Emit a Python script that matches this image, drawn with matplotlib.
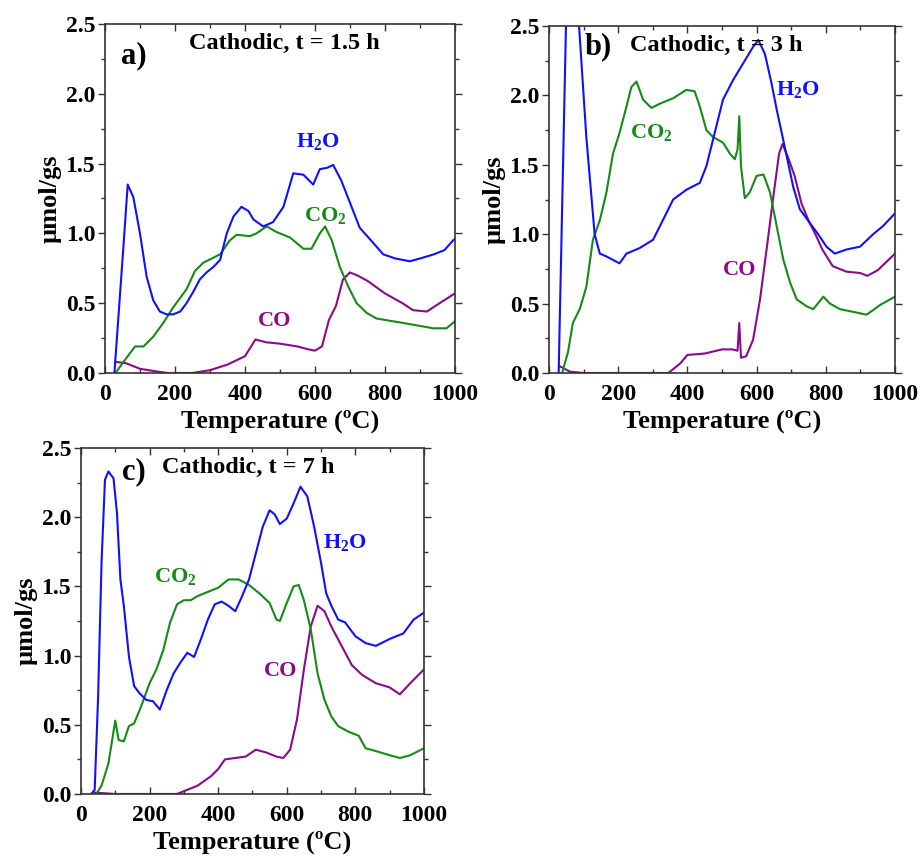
import matplotlib
matplotlib.use("Agg")
import matplotlib.pyplot as plt
from matplotlib.ticker import MultipleLocator

plt.rcParams["font.family"] = ["Liberation Serif", "DejaVu Serif"]
plt.rcParams["font.weight"] = "bold"
plt.rcParams["mathtext.fontset"] = "custom"
plt.rcParams["mathtext.rm"] = "Liberation Serif:bold"
plt.rcParams["mathtext.default"] = "rm"

BLUE = "#1010ff"
GREEN = "#168a16"
PURPLE = "#8a0a8a"

# ── Panel a) Cathodic, t = 1.5 h ───────────────────────────────────────────
a_h2o_T = [27, 52, 65, 81, 100, 119, 138, 157, 176, 195, 215, 233, 252, 271, 290, 310,
           329, 348, 367, 390, 410, 424, 452, 480, 510, 538, 567, 595, 614, 635, 652,
           675, 700, 728, 760, 795, 830, 871, 900, 940, 970, 995, 1000]
a_h2o_v = [0.0, 0.88, 1.35, 1.26, 1.0, 0.69, 0.52, 0.44, 0.42, 0.42, 0.44, 0.5, 0.58, 0.67,
           0.72, 0.76, 0.81, 1.0, 1.12, 1.19, 1.16, 1.1, 1.05, 1.08, 1.19, 1.43, 1.42, 1.35,
           1.46, 1.47, 1.49, 1.38, 1.22, 1.04, 0.95, 0.85, 0.82, 0.8, 0.82, 0.85, 0.88, 0.95, 0.96]

a_co2_T = [30, 62, 86, 110, 138, 167, 195, 233, 257, 281, 329, 357, 376, 414, 433, 462,
           490, 529, 567, 590, 614, 629, 648, 671, 695, 719, 748, 776, 824, 871, 938, 976, 1000]
a_co2_v = [0.0, 0.11, 0.19, 0.19, 0.26, 0.36, 0.47, 0.6, 0.73, 0.79, 0.85, 0.95, 0.99, 0.98,
           1.0, 1.05, 1.01, 0.97, 0.89, 0.89, 1.0, 1.05, 0.95, 0.76, 0.62, 0.5, 0.43, 0.39,
           0.37, 0.35, 0.32, 0.32, 0.37]

a_co_T = [30, 60, 100, 150, 180, 250, 300, 350, 400, 430, 460, 500, 550, 580, 600, 620,
          640, 660, 680, 700, 720, 750, 800, 850, 880, 920, 950, 1000]
a_co_v = [0.08, 0.07, 0.03, 0.01, 0.0, 0.0, 0.02, 0.06, 0.12, 0.24, 0.22, 0.21, 0.19, 0.17,
          0.16, 0.19, 0.38, 0.48, 0.67, 0.72, 0.7, 0.66, 0.57, 0.5, 0.45, 0.44, 0.49, 0.57]

# ── Panel b) Cathodic, t = 3 h ─────────────────────────────────────────────
b_h2o_T = [28, 50, 87, 108, 132, 147, 166, 204, 224, 262, 301, 339, 359, 397, 436, 455,
           474, 503, 532, 561, 590, 605, 624, 643, 658, 677, 706, 725, 754, 778, 802, 826,
           860, 899, 937, 966, 1000]
b_h2o_v = [0.0, 2.6, 2.5, 1.7, 1.0, 0.86, 0.84, 0.79, 0.86, 0.9, 0.96, 1.15, 1.25, 1.32,
           1.37, 1.49, 1.68, 1.97, 2.11, 2.23, 2.35, 2.4, 2.3, 2.09, 1.9, 1.68, 1.34, 1.18,
           1.08, 1.0, 0.91, 0.86, 0.89, 0.91, 1.0, 1.06, 1.15]

b_co2_T = [38, 55, 69, 89, 108, 127, 147, 166, 185, 204, 224, 238, 253, 272, 296, 320, 359,
           397, 421, 436, 455, 474, 503, 523, 537, 545, 550, 555, 566, 580, 600, 620, 639,
           658, 677, 697, 716, 745, 764, 793, 812, 841, 880, 918, 957, 1000]
b_co2_v = [0.0, 0.15, 0.36, 0.46, 0.62, 0.96, 1.1, 1.3, 1.58, 1.73, 1.92, 2.06, 2.1, 1.97,
           1.91, 1.94, 1.98, 2.04, 2.03, 1.92, 1.75, 1.7, 1.66, 1.58, 1.54, 1.61, 1.85, 1.49,
           1.26, 1.3, 1.42, 1.43, 1.3, 1.06, 0.82, 0.65, 0.53, 0.48, 0.46, 0.55, 0.5, 0.46,
           0.44, 0.42, 0.49, 0.55]

b_co_T = [30, 60, 100, 200, 345, 380, 400, 450, 500, 530, 545, 550, 555, 570, 590, 610,
          630, 650, 665, 675, 690, 710, 730, 750, 770, 790, 820, 860, 900, 920, 950, 1000]
b_co_v = [0.05, 0.01, 0.0, 0.0, 0.0, 0.07, 0.13, 0.14, 0.17, 0.17, 0.16, 0.36, 0.11, 0.12,
          0.24, 0.53, 0.91, 1.3, 1.58, 1.65, 1.56, 1.42, 1.22, 1.1, 1.0, 0.89, 0.77, 0.73,
          0.72, 0.7, 0.74, 0.86]

# ── Panel c) Cathodic, t = 7 h ─────────────────────────────────────────────
c_h2o_T = [30, 40, 50, 60, 70, 80, 95, 105, 115, 125, 140, 155, 170, 190, 210, 230, 250,
           270, 290, 310, 330, 350, 370, 390, 410, 430, 450, 470, 490, 510, 530, 550, 565,
           580, 600, 620, 640, 660, 680, 700, 715, 730, 750, 770, 800, 830, 860, 900, 940,
           970, 1000]
c_h2o_v = [0.0, 0.03, 0.7, 1.67, 2.27, 2.33, 2.28, 2.03, 1.55, 1.36, 0.99, 0.78, 0.73, 0.68,
           0.67, 0.61, 0.75, 0.87, 0.95, 1.02, 0.99, 1.12, 1.26, 1.37, 1.39, 1.36, 1.32, 1.43,
           1.55, 1.74, 1.93, 2.05, 2.02, 1.95, 1.99, 2.1, 2.22, 2.15, 1.93, 1.67, 1.45, 1.36,
           1.26, 1.24, 1.14, 1.09, 1.07, 1.12, 1.16, 1.26, 1.31]

c_co2_T = [45, 60, 80, 100, 110, 125, 140, 155, 175, 200, 220, 240, 260, 280, 300, 320, 340,
           370, 400, 430, 460, 490, 520, 550, 570, 580, 600, 620, 635, 650, 670, 690, 710,
           730, 750, 780, 810, 830, 860, 900, 930, 960, 1000]
c_co2_v = [0.0, 0.06, 0.22, 0.53, 0.39, 0.38, 0.49, 0.51, 0.63, 0.8, 0.9, 1.04, 1.24, 1.37,
           1.4, 1.4, 1.43, 1.46, 1.49, 1.55, 1.55, 1.51, 1.45, 1.38, 1.26, 1.25, 1.38, 1.5,
           1.51, 1.4, 1.19, 0.87, 0.68, 0.56, 0.49, 0.45, 0.42, 0.33, 0.31, 0.28, 0.26, 0.28,
           0.33]

c_co_T = [40, 100, 280, 300, 340, 380, 400, 420, 450, 480, 510, 540, 570, 590, 610, 630,
          650, 670, 690, 710, 730, 760, 790, 820, 860, 900, 930, 960, 1000]
c_co_v = [0.01, 0.0, 0.0, 0.02, 0.06, 0.13, 0.18, 0.25, 0.26, 0.27, 0.32, 0.3, 0.27, 0.26,
          0.32, 0.54, 0.9, 1.21, 1.36, 1.32, 1.21, 1.07, 0.93, 0.86, 0.8, 0.77, 0.72, 0.8, 0.9]

panels = [
    {"rect": [0.1141, 0.5658, 0.3804, 0.4063], "tag": "a)", "title": "Cathodic, t = 1.5 h",
     "tag_xy": (81, 2.27), "title_xy": (514, 2.36),
     "h2o": (a_h2o_T, a_h2o_v), "co2": (a_co2_T, a_co2_v), "co": (a_co_T, a_co_v),
     "lab": {"h2o": (610, 1.66), "co2": (629, 1.13), "co": (486, 0.37)}},
    {"rect": [0.5967, 0.5658, 0.3761, 0.4039], "tag": "b)", "title": "Cathodic, t = 3 h",
     "tag_xy": (142, 2.35), "title_xy": (484, 2.36),
     "h2o": (b_h2o_T, b_h2o_v), "co2": (b_co2_T, b_co2_v), "co": (b_co_T, b_co_v),
     "lab": {"h2o": (720, 2.04), "co2": (296, 1.73), "co": (550, 0.74)}},
    {"rect": [0.0880, 0.0757, 0.3728, 0.4028], "tag": "c)", "title": "Cathodic, t = 7 h",
     "tag_xy": (153, 2.33), "title_xy": (488, 2.36),
     "h2o": (c_h2o_T, c_h2o_v), "co2": (c_co2_T, c_co2_v), "co": (c_co_T, c_co_v),
     "lab": {"h2o": (769, 1.82), "co2": (274, 1.57), "co": (582, 0.89)}},
]

names = {"h2o": r"H$_2$O", "co2": r"CO$_2$", "co": "CO"}
colors = {"h2o": BLUE, "co2": GREEN, "co": PURPLE}

fig = plt.figure(figsize=(9.2, 8.59), dpi=100)

for p in panels:
    ax = fig.add_axes(p["rect"])
    for key in ("co", "co2", "h2o"):
        T, v = p[key]
        ax.plot(T, v, color=colors[key], linewidth=1.5)
        lx, ly = p["lab"][key]
        ax.text(lx, ly, names[key], color=colors[key], fontsize=16, fontweight="bold",
                ha="center", va="center")
    ax.text(*p["tag_xy"], p["tag"], fontsize=22, fontweight="bold", ha="center", va="center")
    ax.text(*p["title_xy"], p["title"], fontsize=17.5, fontweight="bold", ha="center", va="center")

    ax.set_xlim(0, 1000)
    ax.set_ylim(0, 2.5)
    ax.xaxis.set_major_locator(MultipleLocator(200))
    ax.xaxis.set_minor_locator(MultipleLocator(100))
    ax.yaxis.set_major_locator(MultipleLocator(0.5))
    ax.yaxis.set_minor_locator(MultipleLocator(0.25))
    ax.yaxis.set_major_formatter(plt.FormatStrFormatter("%.1f"))
    ax.tick_params(which="both", direction="in", top=True, right=True,
                   labelsize=17, color="#333333", width=1)
    ax.tick_params(axis="y", which="both", left=True, direction="out", pad=2)
    ax.tick_params(axis="x", which="both", pad=8)
    ax.tick_params(which="major", length=5)
    ax.tick_params(which="minor", length=3)
    for s in ax.spines.values():
        s.set_color("#333333")
        s.set_linewidth(1.2)
    for lab in ax.get_xticklabels() + ax.get_yticklabels():
        lab.set_fontweight("bold")
    ax.set_xlabel("Temperature (ºC)", fontsize=19, fontweight="bold", labelpad=3)
    ax.set_ylabel("µmol/gs", fontsize=19, fontweight="bold", labelpad=3)

fig.savefig("out.png", dpi=100)
